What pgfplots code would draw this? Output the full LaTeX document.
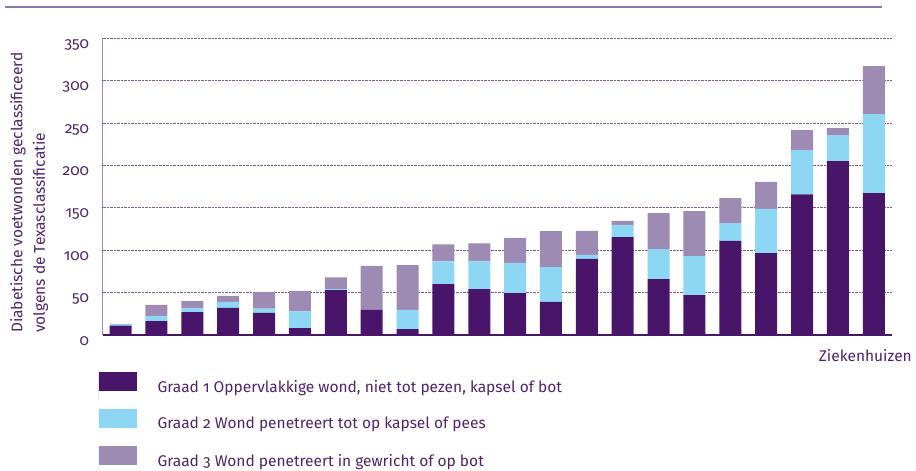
\documentclass[border=0pt]{standalone}
\usepackage{pgfplots}
\pgfplotsset{compat=1.18}
\usepackage{fontspec}
\setmainfont{Fira Sans}[Numbers=OldStyle]
\definecolor{gOne}{HTML}{49156B}
\definecolor{gTwo}{HTML}{8DD7F5}
\definecolor{gThree}{HTML}{9E8BB4}
\definecolor{txt}{HTML}{50236E}
\definecolor{grid}{HTML}{7A5A9A}
\definecolor{rule}{HTML}{8E78A8}
\begin{document}
\begin{tikzpicture}
\begin{axis}[
  at={(0,0)}, anchor=south west,
  scale only axis, width=789pt, height=296.7pt,
  ybar stacked, bar width=22pt,
  xmin=-0.5, xmax=21.5, ymin=0, ymax=350,
  xtick=\empty,
  ytick={0,50,...,350},
  axis x line=bottom, axis y line=left,
  axis line style={-},
  x axis line style={draw=gOne, line width=1.8pt},
  y axis line style={draw=gThree, line width=1.2pt},
  ymajorgrids, grid style={densely dotted, draw=grid, line width=0.7pt},
  major tick length=0pt,
  /pgf/number format/assume math mode=true,
  yticklabel style={font={\fontsize{15.5}{18}\selectfont}, text=txt, anchor=north east, inner sep=0pt, xshift=-13.4pt, yshift=-1pt},
  xlabel={Ziekenhuizen},
  xlabel style={at={(rel axis cs:1,0)}, anchor=north east, inner sep=0pt, xshift=20.3pt, yshift=-14pt, font={\fontsize{15.5}{18}\selectfont}, text=txt},
  legend image code/.code={\fill[#1] (0pt,-3.8pt) rectangle (37.7pt,14.6pt); \path (0pt,-12.8pt) -- (0pt,16.2pt);},
  legend cell align=left,
  legend style={at={(rel axis cs:0,0)}, anchor=north west, xshift=-3.7pt, yshift=-35.7pt,
    draw=none, fill=none, inner sep=0pt, outer sep=0pt, row sep=8pt, column sep=21pt,
    nodes={inner sep=0pt, text=txt, font={\fontsize{15.5}{18}\selectfont}}},
]
\addplot[fill=gOne, draw=none] coordinates {
(0,11) (1,16.5) (2,27) (3,32) (4,26) (5,8) (6,53) (7,29.5) (8,7) (9,60) (10,54)
(11,49.5) (12,39) (13,89.7) (14,115.6) (15,66) (16,47) (17,111) (18,96.7) (19,166) (20,205) (21,167.5)};
\addplot[fill=gTwo, draw=none] coordinates {
(0,2) (1,6) (2,5) (3,7) (4,5) (5,20) (6,1) (7,0) (8,22.5) (9,27) (10,33)
(11,35.5) (12,41) (13,4.7) (14,14.2) (15,35.4) (16,46) (17,21) (18,52) (19,52) (20,30.7) (21,93.2)};
\addplot[fill=gThree, draw=none] coordinates {
(0,0) (1,13) (2,8) (3,7) (4,20) (5,24) (6,14) (7,52) (8,53) (9,20) (10,21)
(11,29.5) (12,42.5) (13,28.3) (14,4.7) (15,42.4) (16,53) (17,29.5) (18,32) (19,23.6) (20,8.3) (21,56.6)};
\legend{{Graad 1 Oppervlakkige wond, niet tot pezen, kapsel of bot},
{Graad 2 Wond penetreert tot op kapsel of pees},
{Graad 3 Wond penetreert in gewricht of op bot}}
\end{axis}
\draw[rule, line width=1.3pt] (-97.7pt,328pt) -- (779.3pt,328pt);
\node[rotate=90, anchor=north west, inner sep=0pt, align=left, text=txt,
  font={\fontsize{15.5}{22.5}\selectfont}] at (-92.7pt,2pt)
  {Diabetische voetwonden geclassificeerd\\volgens de Texasclassificatie};
\pgfresetboundingbox
\path[use as bounding box] (-102.7pt,-136pt) rectangle (813.3pt,335pt);
\end{tikzpicture}
\end{document}
